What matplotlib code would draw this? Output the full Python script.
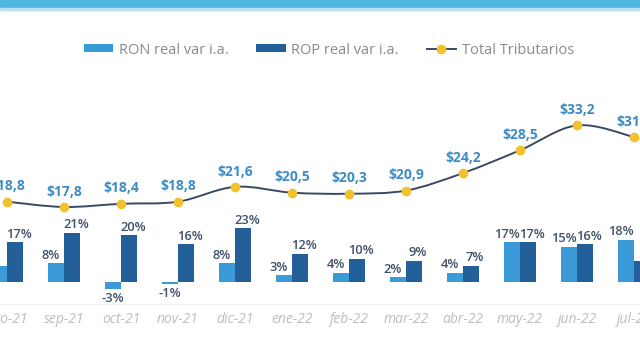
import numpy as np
import matplotlib.pyplot as plt
from matplotlib.path import Path
from matplotlib.patches import PathPatch, Rectangle
from matplotlib.lines import Line2D

months = ['ago-21', 'sep-21', 'oct-21', 'nov-21', 'dic-21', 'ene-22',
          'feb-22', 'mar-22', 'abr-22', 'may-22', 'jun-22', 'jul-22']
ron = [7, 8, -3, -1, 8, 3, 4, 2, 4, 17, 15, 18]
rop = [17, 21, 20, 16, 23, 12, 10, 9, 7, 17, 16, 9]
total = [18.8, 17.8, 18.4, 18.8, 21.6, 20.5, 20.3, 20.9, 24.2, 28.5, 33.2, 31.0]

c_ron = '#3b9ad8'
c_rop = '#235f98'
c_line = '#3a4868'
c_dot = '#f2c12e'
c_lab = '#3d8cc4'
c_bar_lab = '#3f5068'

plt.rcParams['font.family'] = ['Open Sans', 'DejaVu Sans']

fig = plt.figure(figsize=(6.4, 3.6), dpi=100)
fig.patch.set_facecolor('white')
# top banner
fig.patches.append(Rectangle((0, 1 - 8 / 360), 1, 8 / 360, transform=fig.transFigure,
                             color='#4fb7dd', zorder=0))
fig.patches.append(Rectangle((0, 1 - 10 / 360), 1, 2 / 360, transform=fig.transFigure,
                             color='#b9dff0', zorder=0))

ax = fig.add_axes([0, 56 / 360, 1, 264 / 360])
x = np.arange(len(months))
w = 0.28
ax.bar(x - w / 2, ron, w, color=c_ron, label='RON real var i.a.', zorder=2)
ax.bar(x + w / 2, rop, w, color=c_rop, label='ROP real var i.a.', zorder=2)
ax.set_xlim(-0.123, 11.105)
ax.set_ylim(-9.36, 102.98)

for i in range(len(months)):
    v = ron[i]
    if v >= 0:
        ax.annotate(f'{v}%', (x[i] - w / 2, v), xytext=(-4, 1), textcoords='offset points',
                    ha='center', va='bottom', fontsize=9.3, fontweight='semibold', color=c_bar_lab)
    else:
        ax.annotate(f'{v}%', (x[i] - w / 2, v), xytext=(0, -2), textcoords='offset points',
                    ha='center', va='top', fontsize=9.3, fontweight='semibold', color=c_bar_lab)
    ax.annotate(f'{rop[i]}%', (x[i] + w / 2, rop[i]), xytext=(3, 1), textcoords='offset points',
                ha='center', va='bottom', fontsize=9.3, fontweight='semibold', color=c_bar_lab)

ax.set_xticks(x)
ax.set_xticklabels(months, fontsize=10, style='italic', color='#bdbdbd')
ax.tick_params(axis='x', length=0, pad=6)
ax.set_yticks([])
for s in ['top', 'left', 'right']:
    ax.spines[s].set_visible(False)
ax.spines['bottom'].set_color('#f2f2f2')

# line on its own scale
ax2 = ax.twinx()
ax2.set_ylim(-0.5, 49.3)
ax2.set_yticks([])
for s in ax2.spines.values():
    s.set_visible(False)

# smooth curve through the points (Catmull-Rom as cubic beziers)
pts = np.column_stack([x, total])
verts = [pts[0]]
codes = [Path.MOVETO]
for i in range(len(pts) - 1):
    p0 = pts[max(i - 1, 0)]
    p1 = pts[i]
    p2 = pts[i + 1]
    p3 = pts[min(i + 2, len(pts) - 1)]
    verts += [p1 + (p2 - p0) / 6, p2 - (p3 - p1) / 6, p2]
    codes += [Path.CURVE4] * 3
ax2.add_patch(PathPatch(Path(verts, codes), fill=False, ec=c_line, lw=1.4, zorder=3))
ax2.plot(x, total, ls='none', marker='o', ms=6, color=c_dot, zorder=4)
for i, v in enumerate(total):
    ax2.annotate('$' + f'{v:.1f}'.replace('.', ','), (x[i], v), xytext=(0, 6),
                 textcoords='offset points', ha='center', va='bottom',
                 fontsize=10, fontweight='bold', color=c_lab)

# legend
h1, l1 = ax.get_legend_handles_labels()
h2 = Line2D([], [], color=c_line, lw=1.4, marker='o', ms=6, mfc=c_dot, mec=c_dot)
leg = fig.legend(h1 + [h2], l1 + ['Total Tributarios'], loc='center', bbox_to_anchor=(0.514, 1 - 50 / 360),
                 ncol=3, frameon=False, fontsize=10.5, handlelength=2.0, handleheight=0.5,
                 columnspacing=1.9, handletextpad=0.4)
for t in leg.get_texts():
    t.set_color('#8a8a8a')

fig.savefig('out.png', dpi=100)
